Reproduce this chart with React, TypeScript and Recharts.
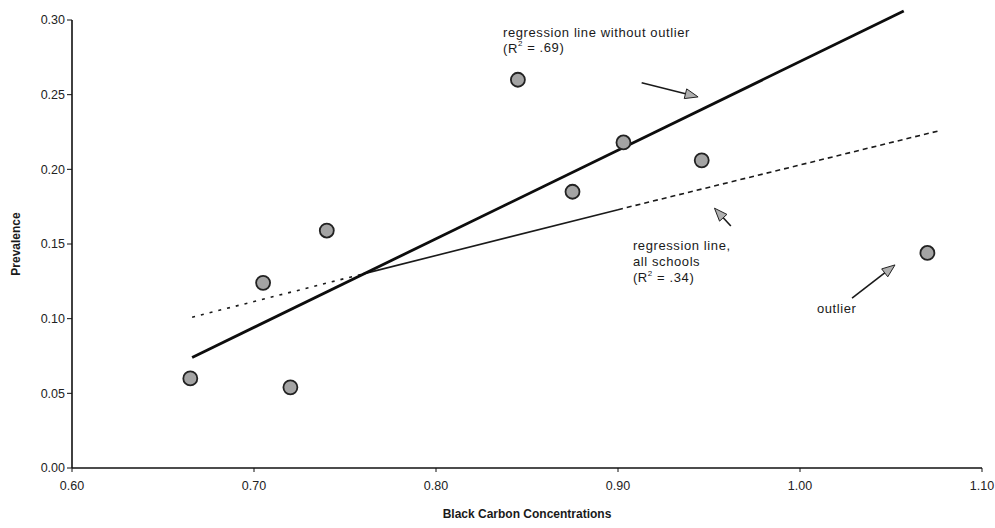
import React from 'react';
import { ScatterChart, Scatter, XAxis, YAxis, ReferenceLine, ReferenceDot } from 'recharts';

// Black carbon concentration (x) vs prevalence (y) per school
const bcConcentration = [0.665, 0.705, 0.72, 0.74, 0.845, 0.875, 0.903, 0.946, 1.07];
const prevalence = [0.06, 0.124, 0.054, 0.159, 0.26, 0.185, 0.218, 0.206, 0.144];

const xTicks = [0.6, 0.7, 0.8, 0.9, 1.0, 1.1];
const yTicks = [0, 0.05, 0.1, 0.15, 0.2, 0.25, 0.3];

// Regression line without outlier (R² = .69)
const fitWithoutOutlierX = [0.666, 1.057];
const fitWithoutOutlierY = [0.074, 0.306];

// Regression line, all schools (R² = .34) – drawn in three differently dashed pieces
const fitAllSchoolsX = [0.666, 0.76, 0.9, 1.077];
const fitAllSchoolsY = [0.101, 0.13, 0.173, 0.226];
const fitAllSchoolsDash = ['3 6', '', '5 4'];

// Text annotations (anchor at left, vertical centre of first line)
const noteX = [0.8368, 0.9082, 1.0093];
const noteY = [0.291, 0.148, 0.106];
const noteLines = [
  ['regression line without outlier', 'R2:.69'],
  ['regression line,', 'all schools', 'R2:.34'],
  ['outlier'],
];

// Arrows (tail -> tip)
const arrowFromX = [0.913, 0.962, 1.0286];
const arrowFromY = [0.258, 0.162, 0.1138];
const arrowToX = [0.944, 0.953, 1.0522];
const arrowToY = [0.2485, 0.174, 0.136];

const points = bcConcentration.map((x, i) => ({ x, y: prevalence[i] }));

const FONT = '"Liberation Sans", Arial, Helvetica, sans-serif';
const INK = '#1a1a1a';

const Dot = (p: any) => (
  <circle cx={p.cx} cy={p.cy} r={7} fill="#a4a4a4" stroke="#222" strokeWidth={1.8} />
);

const ArrowShape = (p: any) => {
  const { x1, y1, x2, y2 } = p;
  const ang = Math.atan2(y2 - y1, x2 - x1);
  const L = 13;
  const W = 5;
  const bx = x2 - L * Math.cos(ang);
  const by = y2 - L * Math.sin(ang);
  const nx = -Math.sin(ang) * W;
  const ny = Math.cos(ang) * W;
  return (
    <g>
      <line x1={x1} y1={y1} x2={bx} y2={by} stroke={INK} strokeWidth={1.6} />
      <polygon
        points={`${x2},${y2} ${bx + nx},${by + ny} ${bx - nx},${by - ny}`}
        fill="#b0b0b0"
        stroke="#222"
        strokeWidth={1}
      />
    </g>
  );
};

const LINE_GAP = 16;

const makeNote = (lines: string[]) => (p: any) => (
  <g>
    {lines.map((ln, i) => {
      const y = p.cy + i * LINE_GAP;
      if (ln.startsWith('R2:')) {
        const v = ln.slice(3);
        return (
          <text
            key={i}
            x={p.cx}
            y={y}
            fontFamily={FONT}
            fontSize={13}
            letterSpacing={0.6}
            fill={INK}
            dominantBaseline="middle"
          >
            {'(R'}
            <tspan fontSize={8} dy={-5}>2</tspan>
            <tspan dy={5}>{` = ${v})`}</tspan>
          </text>
        );
      }
      return (
        <text
          key={i}
          x={p.cx}
          y={y}
          fontFamily={FONT}
          fontSize={13}
          letterSpacing={0.6}
          fill={INK}
          dominantBaseline="middle"
        >
          {ln}
        </text>
      );
    })}
  </g>
);

const YTitle = (props: any) => {
  const vb = props.viewBox;
  const cx = 17;
  const cy = vb.y + vb.height / 2;
  return (
    <text
      x={cx}
      y={cy}
      transform={`rotate(-90, ${cx}, ${cy})`}
      textAnchor="middle"
      dominantBaseline="middle"
      fontFamily={FONT}
      fontSize={12}
      fontWeight="bold"
      fill={INK}
    >
      Prevalence
    </text>
  );
};

const XTitle = (props: any) => {
  const vb = props.viewBox;
  return (
    <text
      x={vb.x + vb.width / 2}
      y={515}
      textAnchor="middle"
      dominantBaseline="middle"
      fontFamily={FONT}
      fontSize={12}
      fontWeight="bold"
      fill={INK}
    >
      Black Carbon Concentrations
    </text>
  );
};

export default function App() {
  const tickStyle = { fontFamily: FONT, fontSize: 12.5, fill: '#222' };
  return (
    <div style={{ position: 'absolute', left: 0, top: 0, width: 995, height: 528, background: '#fff' }}>
      <ScatterChart width={995} height={528} margin={{ top: 20, right: 13, bottom: 30, left: 8 }}>
        <XAxis
          type="number"
          dataKey="x"
          domain={[0.6, 1.1]}
          ticks={xTicks}
          tickFormatter={(v: number) => v.toFixed(2)}
          allowDataOverflow
          height={30}
          tickSize={4}
          tickMargin={9}
          tick={tickStyle}
          axisLine={{ stroke: '#111', strokeWidth: 1.6 }}
          tickLine={{ stroke: '#111' }}
          label={{ content: XTitle }}
        />
        <YAxis
          type="number"
          dataKey="y"
          domain={[0, 0.3]}
          ticks={yTicks}
          tickFormatter={(v: number) => v.toFixed(2)}
          allowDataOverflow
          width={64}
          tickSize={5}
          tickMargin={2}
          tick={tickStyle}
          axisLine={{ stroke: '#111', strokeWidth: 1.6 }}
          tickLine={{ stroke: '#111' }}
          label={{ content: YTitle }}
        />
        {fitAllSchoolsDash.map((dash, i) => (
          <ReferenceLine
            key={'all' + i}
            segment={[
              { x: fitAllSchoolsX[i], y: fitAllSchoolsY[i] },
              { x: fitAllSchoolsX[i + 1], y: fitAllSchoolsY[i + 1] },
            ]}
            ifOverflow="visible"
            stroke={INK}
            strokeWidth={1.6}
            strokeDasharray={dash || undefined}
          />
        ))}
        <ReferenceLine
          segment={[
            { x: fitWithoutOutlierX[0], y: fitWithoutOutlierY[0] },
            { x: fitWithoutOutlierX[1], y: fitWithoutOutlierY[1] },
          ]}
          ifOverflow="visible"
          stroke="#0d0d0d"
          strokeWidth={2.8}
        />
        <Scatter data={points} shape={Dot} isAnimationActive={false} />
        {arrowFromX.map((fx, i) => (
          <ReferenceLine
            key={'arr' + i}
            segment={[
              { x: fx, y: arrowFromY[i] },
              { x: arrowToX[i], y: arrowToY[i] },
            ]}
            ifOverflow="visible"
            shape={ArrowShape}
          />
        ))}
        {noteX.map((nx, i) => (
          <ReferenceDot
            key={'note' + i}
            x={nx}
            y={noteY[i]}
            r={0}
            ifOverflow="visible"
            shape={makeNote(noteLines[i])}
          />
        ))}
      </ScatterChart>
    </div>
  );
}
